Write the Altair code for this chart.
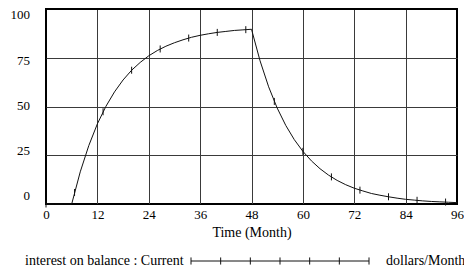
import altair as alt
import pandas as pd

# --- data ---
months = [0, 2, 4, 6, 8, 10, 12, 14, 16, 18, 20, 22, 24, 26, 28, 30, 32, 34, 36, 38, 40,
          42, 44, 46, 48, 50, 52, 54, 56, 58, 60, 62, 64, 66, 68, 70, 72, 74, 76, 78, 80,
          82, 84, 86, 88, 90, 92, 94, 96]
interest = [0, 0, 0, 0, 16.5, 30.0, 41.1, 50.1, 57.5, 63.6, 68.6, 72.6, 76.0, 78.7, 80.9,
            82.7, 84.2, 85.5, 86.5, 87.3, 88.0, 88.5, 89.0, 89.3, 89.6, 73.4, 60.1, 49.2,
            40.3, 33.0, 27.0, 22.1, 18.1, 14.8, 12.1, 9.9, 8.1, 6.7, 5.4, 4.5, 3.7, 3.0,
            2.4, 2.0, 1.6, 1.3, 1.1, 0.9, 0.7]
marker_months = [0, 6.67, 13.33, 20, 26.67, 33.33, 40, 46.67, 53.33, 60, 66.67, 73.33,
                 80, 86.67, 93.33]
marker_vals = [0, 5.9, 47.3, 68.6, 79.5, 85.1, 88.0, 89.4, 52.6, 27.0, 13.9, 7.1, 3.7,
               1.9, 1.0]
y_ticks = [0, 25, 50, 75, 100]
x_ticks = [0, 6, 12, 18, 24, 30, 36, 42, 48, 54, 60, 66, 72, 78, 84, 90, 96]
series_label = "interest on balance : Current"
unit_label = "dollars/Month"
x_title = "Time (Month)"

FONT = "Liberation Serif"
GRID = "#3a3a3a"

df = pd.DataFrame({"t": months, "v": interest})
mdf = pd.DataFrame({"t": marker_months, "v": marker_vals})
ldf = pd.DataFrame({"v": y_ticks})
legdf = pd.DataFrame({"name": [series_label], "unit": [unit_label]})

xscale = alt.Scale(domain=[0, 96], nice=False, zero=False)
yscale = alt.Scale(domain=[0, 100], nice=False)

xaxis = alt.Axis(
    values=x_ticks,
    labelExpr="datum.value % 12 == 0 ? datum.label : ''",
    grid=True,
    gridColor={"condition": {"test": "datum.value == 0 || datum.value == 96", "value": "black"},
               "value": GRID},
    gridWidth=1,
    ticks=False,
    domain=False,
    labelFlush=False,
    labelFont=FONT,
    labelFontSize=13,
    labelColor="black",
    labelPadding=4,
    title=x_title,
    titleFont=FONT,
    titleFontSize=14,
    titleFontWeight="normal",
    titleColor="black",
    titlePadding=4,
)
yaxis = alt.Axis(
    values=y_ticks,
    grid=True,
    gridColor={"condition": {"test": "datum.value == 0 || datum.value == 100", "value": "black"},
               "value": GRID},
    gridWidth=1,
    labels=False,
    ticks=False,
    domain=False,
    title=None,
)

line = alt.Chart(df).mark_line(color="#111111", strokeWidth=1).encode(
    x=alt.X("t:Q", scale=xscale, axis=xaxis),
    y=alt.Y("v:Q", scale=yscale, axis=yaxis),
)

tick_shape = "M0,-1L0,1"
markers = alt.Chart(mdf).mark_point(
    shape=tick_shape, size=49, filled=False, stroke="#111111", strokeWidth=1, opacity=1
).encode(
    x=alt.X("t:Q", scale=xscale),
    y=alt.Y("v:Q", scale=yscale, axis=None),
)

ylabels = alt.Chart(ldf).mark_text(
    align="right", baseline="middle", font=FONT, fontSize=13, color="black"
).encode(
    x=alt.value(-16),
    y=alt.Y("v:Q", scale=alt.Scale(domain=[-4.43, 103.6], nice=False, zero=False), axis=None),
    text=alt.Text("v:Q"),
)

leg_y = 252
leg_name = alt.Chart(legdf).mark_text(
    align="left", baseline="middle", font=FONT, fontSize=14, color="black"
).encode(x=alt.value(-21), y=alt.value(leg_y), text="name:N")

leg_unit = alt.Chart(legdf).mark_text(
    align="left", baseline="middle", font=FONT, fontSize=14, color="black"
).encode(x=alt.value(340), y=alt.value(leg_y), text="unit:N")

sample_path = ("M-1,0L1,0"
               "M-1,-0.04L-1,0.04M-0.6667,-0.04L-0.6667,0.04M-0.3333,-0.04L-0.3333,0.04"
               "M0,-0.04L0,0.04M0.3333,-0.04L0.3333,0.04M0.6667,-0.04L0.6667,0.04"
               "M1,-0.04L1,0.04")
leg_sample = alt.Chart(legdf).mark_point(
    shape=sample_path, size=178 * 178, filled=False, stroke="#111111", strokeWidth=1, opacity=1
).encode(x=alt.value(234), y=alt.value(leg_y))

chart = alt.layer(
    line, markers, ylabels, leg_name, leg_unit, leg_sample
).resolve_scale(
    y="independent"
).properties(
    width=411,
    height=195,
    autosize=alt.AutoSizeParams(type="none"),
    padding={"left": 38, "top": 1, "right": 7, "bottom": 66},
    background="white",
).configure_view(
    stroke="black", strokeWidth=2
)

chart.save("out.html", embed_options={"renderer": "svg", "actions": False})
